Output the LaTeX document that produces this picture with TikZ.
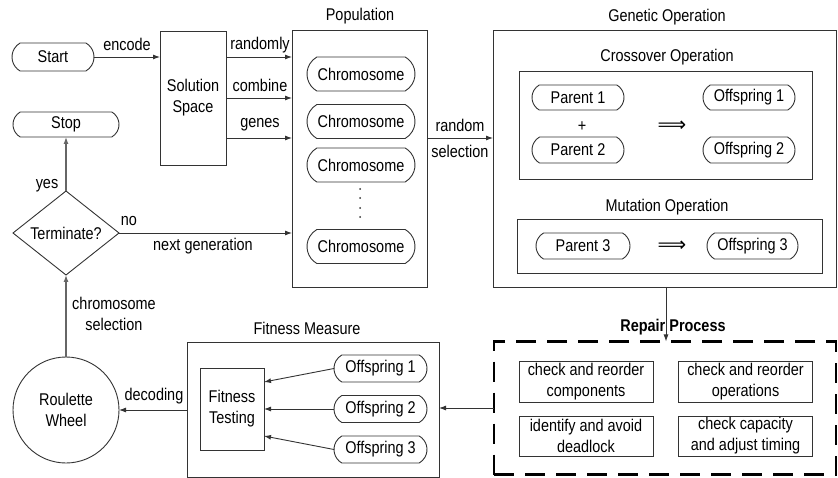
\documentclass[tikz,border=0pt]{standalone}
\usepackage{fontspec}
\setmainfont{Liberation Sans}[FakeStretch=0.85]
\newfontfamily\djv{DejaVu Sans}
\usetikzlibrary{shapes.geometric,shapes.misc,arrows.meta}
\begin{document}
\begin{tikzpicture}[x=1pt,y=-1pt,
  font=\fontsize{17}{21}\selectfont,
  every node/.style={inner sep=0pt, outer sep=0pt},
  ln/.style={draw=black!80, line width=0.9pt},
  arr/.style={ln, -{Latex[length=7pt,width=5pt]}},
  garr/.style={draw=black!60, line width=1.2pt, -{Latex[length=7pt,width=5pt]}},
  box/.style={draw=black!80, line width=0.9pt, rectangle, align=center},
  pill/.style={draw=black!80, line width=0.9pt, rounded rectangle, rounded rectangle arc length=120, align=center},
  lbl/.style={align=center},
  impl/.style={font=\djv\fontsize{20}{22}\selectfont}]
\useasboundingbox (0,0) rectangle (838,478);

% left column
\node[pill, minimum width=82pt, minimum height=28pt] (start) at (53,57) {Start};
\node[pill, minimum width=106pt, minimum height=25pt] (stop) at (66,124.5) {Stop};
\node[draw=black!80, line width=0.9pt, diamond, minimum width=106pt, minimum height=80pt] (term) at (66,233) {Terminate?};
\node[draw=black!80, line width=0.9pt, circle, minimum size=106pt, align=center] (wheel) at (66,410) {Roulette\\Wheel};

% solution space
\node[box, minimum width=66pt, minimum height=134pt] (ss) at (193,98) {Solution\\Space};

% population
\node[box, minimum width=135pt, minimum height=257pt] (pop) at (359.5,158.5) {};
\node[lbl] (poplbl) at (360,16) {Population};
\node[pill, minimum width=108pt, minimum height=34pt] (c1) at (361,74) {Chromosome};
\node[pill, minimum width=108pt, minimum height=34pt] (c2) at (361,121.5) {Chromosome};
\node[pill, minimum width=108pt, minimum height=34pt] (c3) at (361,165) {Chromosome};
\node[pill, minimum width=108pt, minimum height=34pt] (c4) at (361,246.5) {Chromosome};
\foreach \yy in {189,198,208,217} \fill[black!80] (360,\yy) circle (1pt);

% genetic operation
\node[box, minimum width=343pt, minimum height=257pt] (gen) at (664.5,158.5) {};
\node[lbl] (genlbl) at (667,17) {Genetic Operation};
\node[box, minimum width=293pt, minimum height=108pt] (cross) at (665.5,125) {};
\node[lbl] (crosslbl) at (667,57) {Crossover Operation};
\node[pill, minimum width=92pt, minimum height=25pt] (p1) at (578,97.5) {Parent 1};
\node[pill, minimum width=92pt, minimum height=26pt] (p2) at (578,150) {Parent 2};
\node[pill, minimum width=92pt, minimum height=25pt] (o1) at (749,97.5) {Offspring 1};
\node[pill, minimum width=92pt, minimum height=26pt] (o2) at (749,150) {Offspring 2};
\node (plus) at (582,127) {+};
\node[impl] (imp1) at (672,126) {⟹};
\node[box, minimum width=305pt, minimum height=54pt] (mut) at (669.5,246) {};
\node[lbl] (mutlbl) at (667,207) {Mutation Operation};
\node[pill, minimum width=94pt, minimum height=26pt] (p3) at (583,246) {Parent 3};
\node[pill, minimum width=91pt, minimum height=26pt] (o3) at (752.5,246) {Offspring 3};
\node[impl] (imp2) at (672,246) {⟹};

% repair process
\node[draw=black, line width=2.6pt, dash pattern=on 20pt off 11pt, rectangle, minimum width=342pt, minimum height=133pt] (rep) at (665,408) {};
\node[lbl, font=\fontsize{17}{21}\selectfont\bfseries] (replbl) at (673,327) {Repair Process};
\node[box, minimum width=134pt, minimum height=41pt] (r1) at (586,381.5) {check and reorder\\components};
\node[box, minimum width=134pt, minimum height=41pt] (r2) at (745.5,381.5) {check and reorder\\operations};
\node[box, minimum width=134pt, minimum height=40pt] (r3) at (586,436) {identify and avoid\\deadlock};
\node[box, minimum width=134pt, minimum height=40pt] (r4) at (745.5,436) {check capacity\\and adjust timing};

% fitness measure
\node[box, minimum width=252pt, minimum height=135pt] (fit) at (313,409.5) {};
\node[lbl] (fitlbl) at (307,328) {Fitness Measure};
\node[box, minimum width=64pt, minimum height=82pt] (ft) at (232,409) {Fitness\\Testing};
\node[pill, minimum width=93pt, minimum height=27pt] (f1) at (380.5,368.5) {Offspring 1};
\node[pill, minimum width=93pt, minimum height=27pt] (f2) at (380.5,409) {Offspring 2};
\node[pill, minimum width=93pt, minimum height=27pt] (f3) at (380.5,449.5) {Offspring 3};

% connectors
\draw[arr] (start.east) -- (start.east -| ss.west);
\node (encl) at (127,44) {encode};
\draw[arr] (ss.east |- 0,57) -- (pop.west |- 0,57);
\draw[arr] (ss.east |- 0,98) -- (pop.west |- 0,98);
\draw[arr] (ss.east |- 0,138) -- (pop.west |- 0,138);
\node (l1) at (260,45) {randomly};
\node (l2) at (260,85) {combine};
\node (l3) at (260,125) {genes};
\draw[arr] (pop.east |- 0,138) -- (gen.west |- 0,138);
\node[lbl] (rsl) at (460,138.5) {random\\[5pt]selection};
\draw[arr] (gen.south -| 666,0) -- (rep.north -| 666,0);
\draw[arr] (rep.west) -- (fit.east |- rep.west);
\draw[arr] (f1.west) -- (ft.east |- 0,382);
\draw[arr] (f2.west) -- (ft.east |- f2.west);
\draw[arr] (f3.west) -- (ft.east |- 0,436);
\draw[arr] (fit.west |- wheel.east) -- (wheel.east);
\node (decl) at (154,396) {decoding};
\draw[garr] (wheel.north) -- (term.south);
\node[lbl] (csl) at (114,314) {chromosome\\selection};
\draw[garr] (term.north) -- (stop.south);
\node (yesl) at (47,186) {yes};
\draw[arr] (term.east) -- (pop.west |- term.east);
\node (nol) at (129,221) {no};
\node (ngl) at (203,246) {next generation};
\end{tikzpicture}
\end{document}
